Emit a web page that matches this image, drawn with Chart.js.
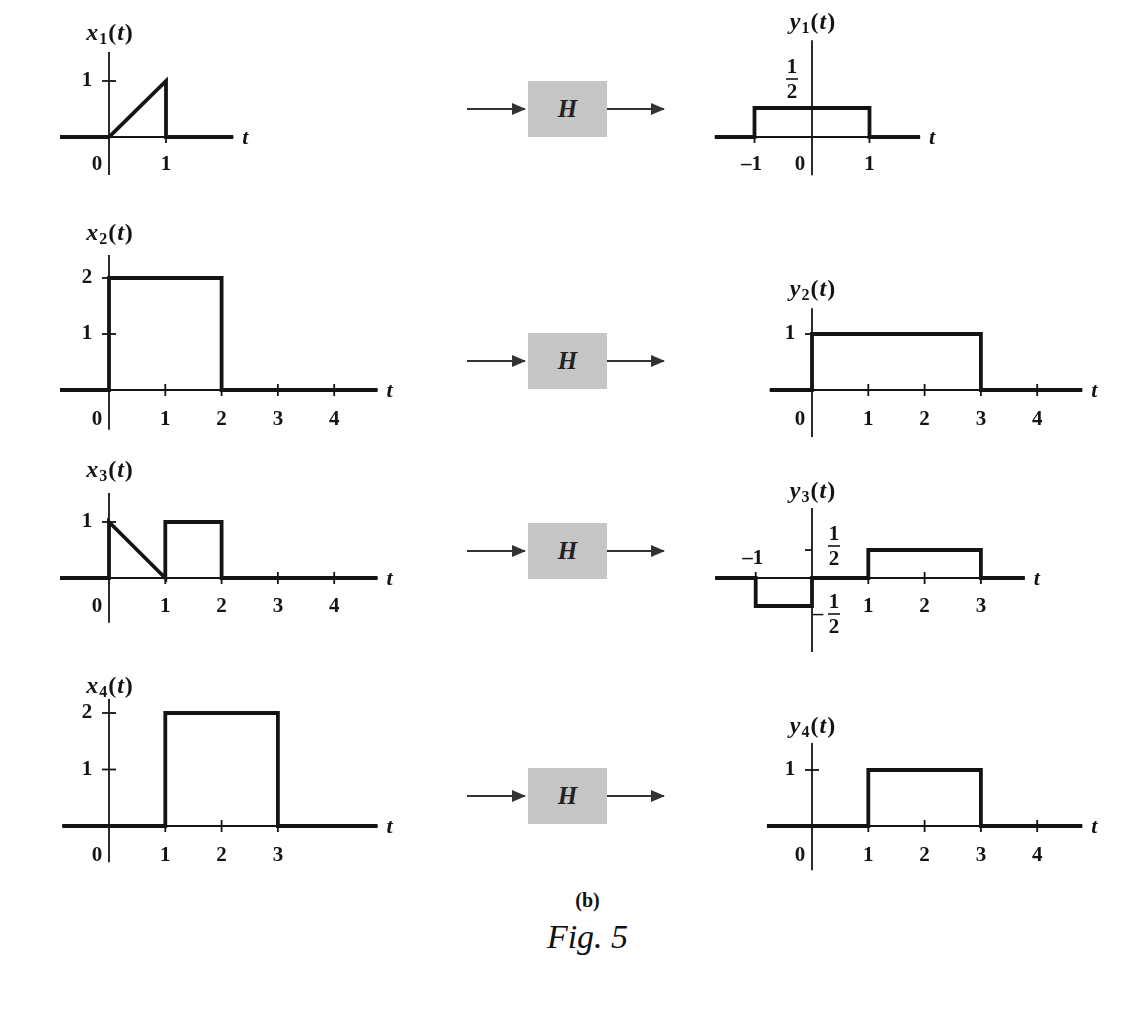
<!DOCTYPE html>
<html>
<head>
<meta charset="utf-8">
<title>Fig. 5</title>
<script src="https://cdn.jsdelivr.net/npm/chart.js@4.4.1/dist/chart.umd.min.js"></script>
<style>
  html, body { margin: 0; padding: 0; background: #fff; }
  body { width: 1125px; height: 1019px; position: relative; overflow: hidden; font-family: "Liberation Serif", serif; }
  canvas.panel { position: absolute; }
  .hbox {
    position: absolute; left: 528px; width: 79px; height: 56px;
    background: #c6c6c6; color: #222;
    font: italic bold 25px "Liberation Serif", serif;
    display: flex; align-items: center; justify-content: center;
  }
  .arrow { position: absolute; height: 2px; background: #333; }
  .arrow::after {
    content: ""; position: absolute; right: -1px; top: -5px;
    border-left: 14px solid #333; border-top: 6px solid transparent; border-bottom: 6px solid transparent;
  }
  .cap { position: absolute; left: 0; width: 1175px; text-align: center; color: #111; }
  #capB { top: 889px; font: bold 20px "Liberation Serif", serif; }
  #capFig { top: 918px; font: italic 34px "Liberation Serif", serif; }
</style>
</head>
<body>

<div class="cap" id="capB">(b)</div>
<div class="cap" id="capFig">Fig. 5</div>

<script>
// =====================================
// Fig. 5 (b) | inputs x_k(t) -> H -> outputs y_k(t)
// =====================================

// ---------- DATA (t, value) ----------
const x1T = [-0.86, 0, 1, 1, 2.18];
const x1V = [0, 0, 1, 0, 0];
const x2T = [-0.87, 0, 0, 2, 2, 4.77];
const x2V = [0, 0, 2, 2, 0, 0];
const x3T = [-0.87, 0, 0, 1, 1, 2, 2, 4.77];
const x3V = [0, 0, 1, 0, 1, 1, 0, 0];
const x4T = [-0.83, 1, 1, 3, 3, 4.77];
const x4V = [0, 0, 2, 2, 0, 0];

const y1T = [-1.69, -1, -1, 1, 1, 1.88];
const y1V = [0, 0, 0.5, 0.5, 0, 0];
const y2T = [-0.75, 0, 0, 3, 3, 4.8];
const y2V = [0, 0, 1, 1, 0, 0];
const y3T = [-1.72, -1, -1, 0, 0, 1, 1, 3, 3, 3.78];
const y3V = [0, 0, -0.5, -0.5, 0, 0, 0.5, 0.5, 0, 0];
const y4T = [-0.8, 1, 1, 3, 3, 4.8];
const y4V = [0, 0, 1, 1, 0, 0];

// ---------- TICKS ----------
const x1TickT = [0, 1],          x1TickTText = ["0", "1"];
const x1TickV = [1],             x1TickVText = ["1"];
const x2TickT = [0, 1, 2, 3, 4], x2TickTText = ["0", "1", "2", "3", "4"];
const x2TickV = [1, 2],          x2TickVText = ["1", "2"];
const x3TickT = [0, 1, 2, 3, 4], x3TickTText = ["0", "1", "2", "3", "4"];
const x3TickV = [1],             x3TickVText = ["1"];
const x4TickT = [0, 1, 2, 3],    x4TickTText = ["0", "1", "2", "3"];
const x4TickV = [1, 2],          x4TickVText = ["1", "2"];

const y1TickT = [-1, 0, 1],      y1TickTText = ["\u20131", "0", "1"];
const y1TickV = [0.5],           y1TickVText = ["1/2"];
const y2TickT = [0, 1, 2, 3, 4], y2TickTText = ["0", "1", "2", "3", "4"];
const y2TickV = [1],             y2TickVText = ["1"];
const y3TickT = [-1, 1, 2, 3],   y3TickTText = ["\u20131", "1", "2", "3"];
const y3TickV = [0.5, -0.5],     y3TickVText = ["1/2", "\u20131/2"];
const y4TickT = [0, 1, 2, 3, 4], y4TickTText = ["0", "1", "2", "3", "4"];
const y4TickV = [1],             y4TickVText = ["1"];

const titleNames = ["x", "x", "x", "x", "y", "y", "y", "y"];
const titleSubs  = ["1", "2", "3", "4", "1", "2", "3", "4"];
const axisName   = "t";
const blockName  = "H";

// ---------- LAYOUT ----------
// box = canvas on the page, ox/oy = page pixel of the origin, ux/uy = px per unit
const panels = [
  { T: x1T, V: x1V, tv: x1TickT, tt: x1TickTText, vv: x1TickV, vt: x1TickVText,
    box: [40, 10, 240, 180], ox: 109, oy: 137, ux: 57, uy: 56,
    axT: [-0.86, 2.18], axV: [1.52, -0.68], titleY: 34, labDy: 28 },
  { T: x2T, V: x2V, tv: x2TickT, tt: x2TickTText, vv: x2TickV, vt: x2TickVText,
    box: [40, 215, 380, 225], ox: 109, oy: 390, ux: 56.3, uy: 56,
    axT: [-0.87, 4.77], axV: [2.41, -0.71], titleY: 234, labDy: 30 },
  { T: x3T, V: x3V, tv: x3TickT, tt: x3TickTText, vv: x3TickV, vt: x3TickVText,
    box: [40, 455, 380, 200], ox: 109, oy: 578, ux: 56.3, uy: 56,
    axT: [-0.87, 4.77], axV: [1.52, -0.8], titleY: 471, labDy: 29 },
  { T: x4T, V: x4V, tv: x4TickT, tt: x4TickTText, vv: x4TickV, vt: x4TickVText,
    box: [40, 665, 380, 210], ox: 109, oy: 826, ux: 56.3, uy: 56.5,
    axT: [-0.83, 4.77], axV: [2.25, -0.64], titleY: 687, labDy: 30 },

  { T: y1T, V: y1V, tv: y1TickT, tt: y1TickTText, vv: y1TickV, vt: y1TickVText,
    box: [690, 5, 270, 185], ox: 812, oy: 137, ux: 57.5, uy: 58,
    axT: [-1.69, 1.88], axV: [1.67, -0.66], titleY: 23, labDy: 28,
    vLab: [[-20, -29]] },
  { T: y2T, V: y2V, tv: y2TickT, tt: y2TickTText, vv: y2TickV, vt: y2TickVText,
    box: [740, 270, 380, 180], ox: 812, oy: 390, ux: 56.3, uy: 56,
    axT: [-0.75, 4.8], axV: [1.46, -0.84], titleY: 290, labDy: 30 },
  { T: y3T, V: y3V, tv: y3TickT, tt: y3TickTText, vv: y3TickV, vt: y3TickVText,
    box: [690, 470, 380, 195], ox: 812, oy: 578, ux: 56.3, uy: 56,
    axT: [-1.72, 3.78], axV: [1.25, -1.32], titleY: 492, labDy: 29,
    above: [-1], vLab: [[22, -4], [22, 8]], vTickLeft: true },
  { T: y4T, V: y4V, tv: y4TickT, tt: y4TickTText, vv: y4TickV, vt: y4TickVText,
    box: [740, 700, 380, 180], ox: 812, oy: 826, ux: 56.3, uy: 56,
    axT: [-0.8, 4.8], axV: [1.48, -0.79], titleY: 727, labDy: 30 },
];

const INK = "#141414";
const NUM_FONT = 'bold 21px "Liberation Serif", serif';

function seg(ctx, x1, y1, x2, y2) {
  ctx.beginPath();
  ctx.moveTo(x1, y1);
  ctx.lineTo(x2, y2);
  ctx.stroke();
}

function drawFrac(ctx, cx, barY, text) {
  let neg = false;
  if (text.startsWith("\u2013")) { neg = true; text = text.slice(1); }
  const [num, den] = text.split("/");
  ctx.font = NUM_FONT;
  ctx.textAlign = "center";
  ctx.textBaseline = "middle";
  ctx.fillText(num, cx, barY - 11);
  ctx.fillText(den, cx, barY + 14);
  ctx.lineWidth = 1.6;
  seg(ctx, cx - 6, barY, cx + 6, barY);
  if (neg) ctx.fillText("\u2013", cx - 16, barY + 1);
}

function drawTitle(ctx, cx, cy, name, sub) {
  const big = 'italic bold 24px "Liberation Serif", serif';
  const up = 'bold 24px "Liberation Serif", serif';
  const small = 'bold 16px "Liberation Serif", serif';
  const parts = [[name, big, 0], [sub, small, 6], ["(", up, 0], [axisName, big, 0], [")", up, 0]];
  let w = 0;
  parts.forEach(p => { ctx.font = p[1]; w += ctx.measureText(p[0]).width + 1; });
  let x = cx - w / 2;
  ctx.textAlign = "left";
  ctx.textBaseline = "middle";
  parts.forEach(p => {
    ctx.font = p[1];
    ctx.fillText(p[0], x, cy + p[2]);
    x += ctx.measureText(p[0]).width + 1;
  });
}

// ---------- AXES / LABELS PLUGIN ----------
const signalAxes = {
  id: "signalAxes",
  beforeDatasetsDraw(chart, args, o) {
    const { ctx, scales: { x, y } } = chart;
    const px = v => x.getPixelForValue(v);
    const py = v => y.getPixelForValue(v);
    ctx.save();
    ctx.strokeStyle = INK;
    ctx.lineWidth = 1.8;
    seg(ctx, px(o.axT[0]), py(0), px(o.axT[1]), py(0));
    seg(ctx, px(0), py(o.axV[0]), px(0), py(o.axV[1]));
    o.tv.forEach(v => { if (v !== 0) seg(ctx, px(v), py(0) - 6, px(v), py(0) + 6); });
    o.vv.forEach(v => seg(ctx, px(0) - 7, py(v), px(0) + (o.vTickLeft ? 0 : 7), py(v)));
    ctx.restore();
  },
  afterDatasetsDraw(chart, args, o) {
    const { ctx, scales: { x, y } } = chart;
    const px = v => x.getPixelForValue(v);
    const py = v => y.getPixelForValue(v);
    ctx.save();
    ctx.fillStyle = INK;
    ctx.strokeStyle = INK;

    // t tick labels
    ctx.font = NUM_FONT;
    ctx.textAlign = "center";
    ctx.textBaseline = "middle";
    o.tv.forEach((v, i) => {
      const above = (o.above || []).includes(v);
      let lx = px(v);
      if (v === 0) lx -= 12;
      if (o.tt[i].startsWith("\u2013")) lx -= 3;
      ctx.fillText(o.tt[i], lx, py(0) + (above ? -19 : o.labDy));
    });

    // value tick labels
    o.vv.forEach((v, i) => {
      const off = (o.vLab && o.vLab[i]) || [-22, 0];
      const txt = o.vt[i];
      if (txt.includes("/")) {
        drawFrac(ctx, px(0) + off[0], py(v) + off[1], txt);
      } else {
        ctx.font = NUM_FONT;
        ctx.textAlign = "center";
        ctx.fillText(txt, px(0) + off[0], py(v) + off[1]);
      }
    });

    // axis name
    ctx.font = 'italic bold 22px "Liberation Serif", serif';
    ctx.textAlign = "left";
    ctx.fillText(axisName, px(o.axT[1]) + 9, py(0) + 1);

    // title above the vertical axis
    drawTitle(ctx, px(0) + 1, o.titleY - o.top, o.name, o.sub);
    ctx.restore();
  }
};

// ---------- BUILD PANELS ----------
panels.forEach((p, k) => {
  const [left, top, w, h] = p.box;
  const cv = document.createElement("canvas");
  cv.className = "panel";
  cv.width = w;
  cv.height = h;
  cv.style.left = left + "px";
  cv.style.top = top + "px";
  document.body.appendChild(cv);

  const pts = p.T.map((t, i) => ({ x: t, y: p.V[i] }));

  new Chart(cv.getContext("2d"), {
    type: "line",
    data: {
      datasets: [{
        data: pts,
        borderColor: INK,
        borderWidth: 3.8,
        borderJoinStyle: "miter",
        pointRadius: 0,
        tension: 0,
        fill: false,
      }],
    },
    options: {
      responsive: false,
      animation: false,
      events: [],
      layout: { padding: 0 },
      plugins: {
        legend: { display: false },
        tooltip: { enabled: false },
        signalAxes: {
          axT: p.axT, axV: p.axV, tv: p.tv, tt: p.tt, vv: p.vv, vt: p.vt,
          labDy: p.labDy, above: p.above, vLab: p.vLab, vTickLeft: p.vTickLeft,
          titleY: p.titleY, top: top, name: titleNames[k], sub: titleSubs[k],
        },
      },
      scales: {
        x: { type: "linear", display: false,
             min: (left - p.ox) / p.ux, max: (left + w - p.ox) / p.ux },
        y: { type: "linear", display: false,
             min: (p.oy - top - h) / p.uy, max: (p.oy - top) / p.uy },
      },
    },
    plugins: [signalAxes],
  });
});

// ---------- H BLOCKS ----------
const blockTops = [81, 333, 523, 768];
blockTops.forEach(top => {
  const box = document.createElement("div");
  box.className = "hbox";
  box.style.top = top + "px";
  box.textContent = blockName;
  document.body.appendChild(box);

  const mid = top + 27;
  [[467, 58], [607, 57]].forEach(([l, w]) => {
    const a = document.createElement("div");
    a.className = "arrow";
    a.style.left = l + "px";
    a.style.width = w + "px";
    a.style.top = mid + "px";
    document.body.appendChild(a);
  });
});
</script>
</body>
</html>
